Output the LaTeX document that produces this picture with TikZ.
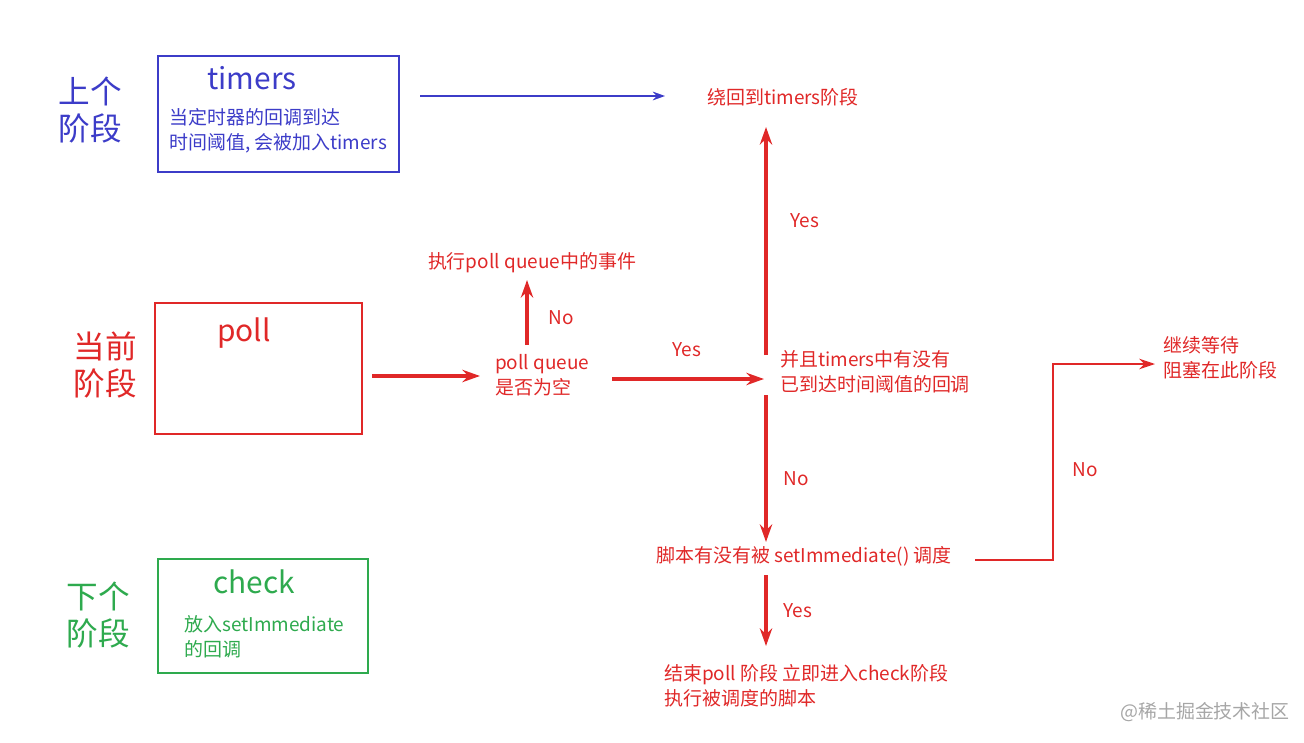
\documentclass[tikz,border=0pt]{standalone}
\usepackage{fontspec}
\setmainfont{Noto Sans CJK SC}
\usetikzlibrary{arrows.meta}
\definecolor{cred}{HTML}{E02828}
\definecolor{cblue}{HTML}{3C3CC8}
\definecolor{cgreen}{HTML}{2EAA4E}
\tikzset{x=0.02cm,y=-0.02cm,
 big/.style={font=\fontsize{18}{21}\selectfont,align=center},
 ttl/.style={font=\fontsize{17}{18}\selectfont},
 sm/.style={font=\fontsize{10.8}{14}\selectfont,align=left},
 rarr/.style={cred,line width=1.9pt,-{Stealth[length=10pt,width=7pt]}},
 lbl/.style={sm,text=cred}}
\begin{document}
\begin{tikzpicture}
\useasboundingbox (0,0) rectangle (1304,743);
% left labels
\node[big,text=cblue] (l1) at (90,110) {上个\\阶段};
\node[big,text=cred] (l2) at (105,365) {当前\\阶段};
\node[big,text=cgreen] (l3) at (98,615) {下个\\阶段};
% boxes
\draw[cblue,line width=0.8pt] (158,56) rectangle (399,172);
\node[ttl,text=cblue] (tt) at (252,78) {timers};
\node[sm,text=cblue,anchor=west] (td) at (163,131) {当定时器的回调到达\\时间阈值, 会被加入timers};
\draw[cred,line width=0.8pt] (155,303) rectangle (362,434);
\node[ttl,text=cred] (pt) at (244,333) {poll};
\draw[cgreen,line width=0.8pt] (158,559) rectangle (368,673);
\node[ttl,text=cgreen] (ct) at (254,582) {check};
\node[sm,text=cgreen,anchor=west] (cd) at (178,637) {放入setImmediate\\的回调};
% blue arrow
\coordinate (b1) at (420,96); \coordinate (b2) at (665,96);
\draw[cblue,line width=1pt,-{Stealth[length=7pt,width=5pt]}] (b1) -- (b2);
% texts
\node[lbl] (wrap) at (783,97) {绕回到timers阶段};
\node[lbl,anchor=west] (pq) at (489,375) {poll queue\\是否为空};
\node[lbl] (ex) at (532,263) {执行poll queue中的事件};
\node[lbl,anchor=west] (tm) at (774,372) {并且timers中有没有\\已到达时间阈值的回调};
\node[lbl] (si) at (804,556) {脚本有没有被 setImmediate() 调度};
\node[lbl,anchor=west] (wt) at (1157,358) {继续等待\\阻塞在此阶段};
\node[lbl,anchor=west] (en) at (658,686) {结束poll 阶段 立即进入check阶段\\执行被调度的脚本};
\node[lbl] at (805,221) {Yes};
\node[lbl] at (561,318) {No};
\node[lbl] at (687,350) {Yes};
\node[lbl] at (796,479) {No};
\node[lbl] at (1085,470) {No};
\node[lbl] at (798,611) {Yes};
% red arrows
\coordinate (a1) at (372,376); \coordinate (a2) at (480,376);
\draw[rarr] (a1) -- (a2);
\coordinate (u1) at (527,345); \coordinate (u2) at (527,280);
\draw[rarr] (u1) -- (u2);
\coordinate (h1) at (612,379); \coordinate (h2) at (764,379);
\draw[rarr] (h1) -- (h2);
\coordinate (v1) at (766,355); \coordinate (v2) at (766,127);
\draw[rarr] (v1) -- (v2);
\coordinate (d1) at (766,395); \coordinate (d2) at (766,542);
\draw[rarr] (d1) -- (d2);
\coordinate (e1) at (766,575); \coordinate (e2) at (766,646);
\draw[rarr] (e1) -- (e2);
\coordinate (n1) at (975,560); \coordinate (n2) at (1155,364);
\draw[cred,line width=1.2pt,-{Stealth[length=9pt,width=6pt]}] (n1) -- (1053,560) -- (1053,364) -- (n2);
\node[sm,text=gray!70] (wm) at (1205,712) {@稀土掘金技术社区};
\end{tikzpicture}
\end{document}
